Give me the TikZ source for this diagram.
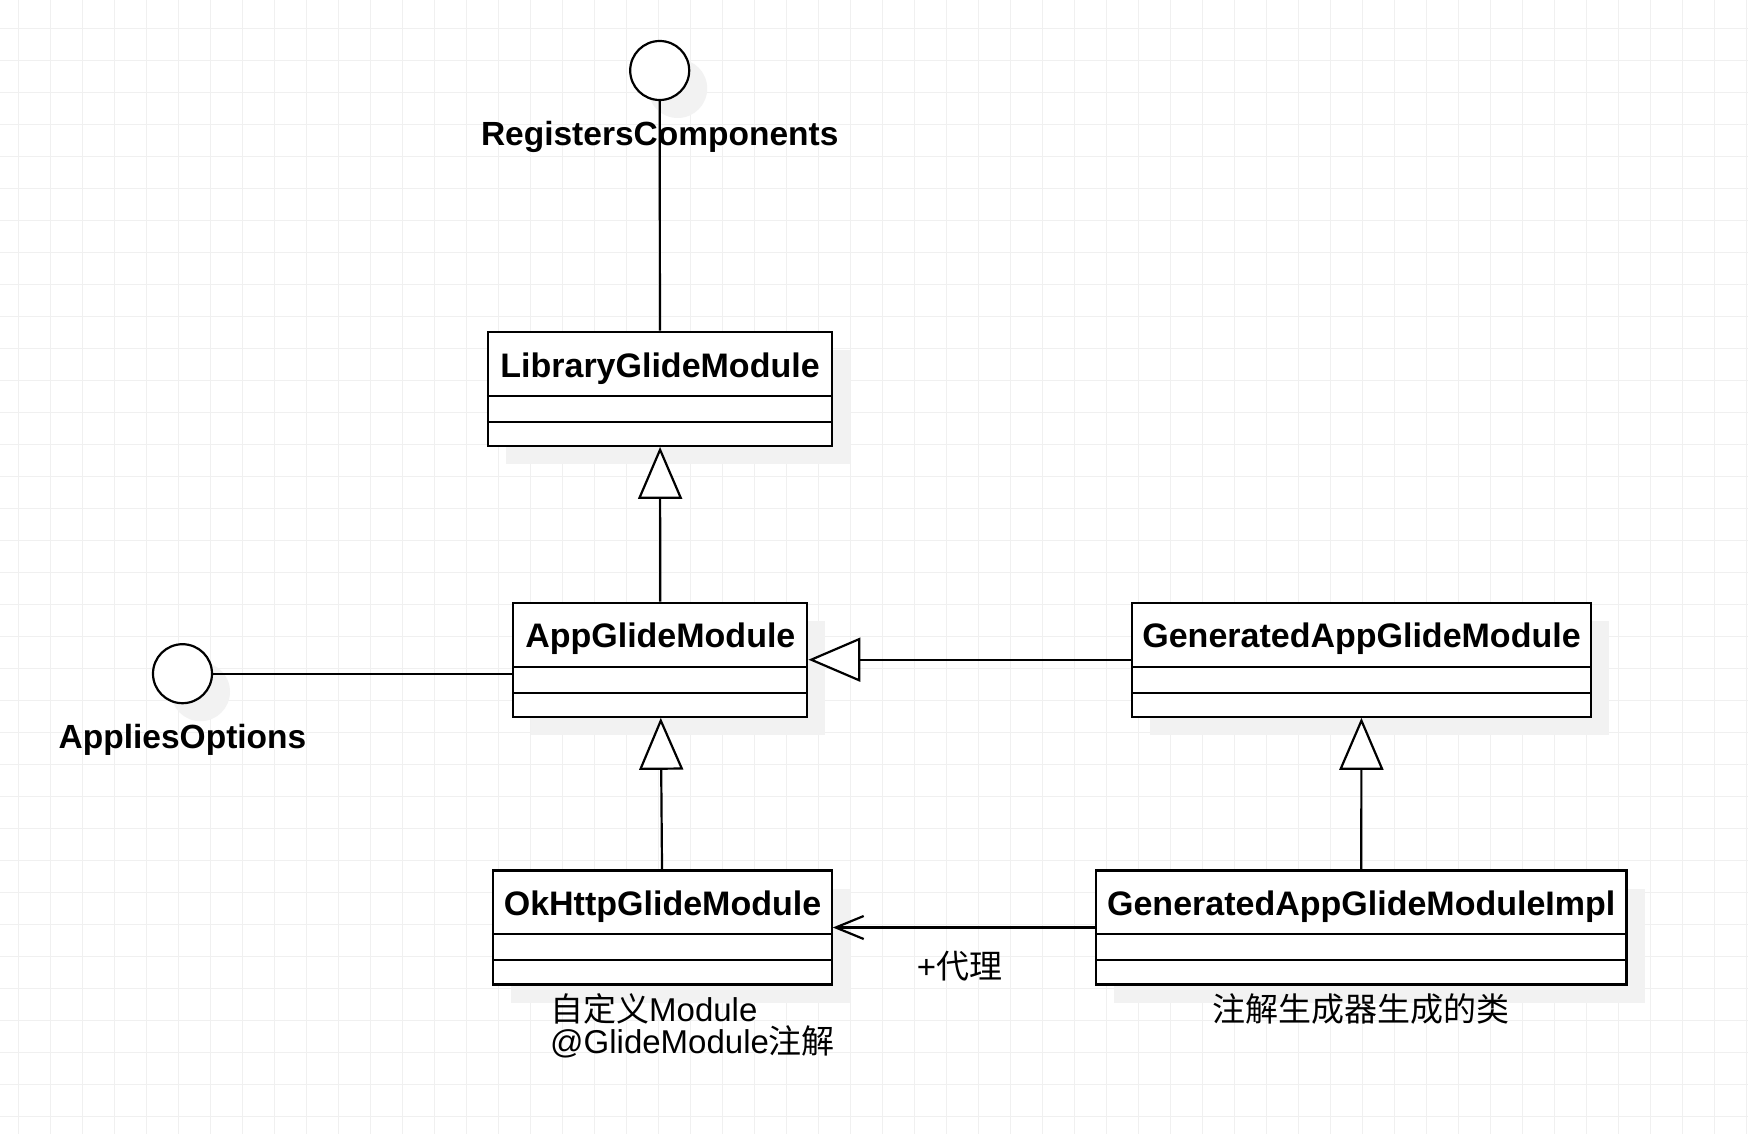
\documentclass[tikz,border=0pt]{standalone}
\usepackage{fontspec}
\setmainfont{Liberation Sans}
\newfontfamily\cjk{Noto Sans CJK SC}
\usetikzlibrary{arrows.meta,positioning,calc,shadows}
\definecolor{gridgray}{RGB}{240,240,240}
\definecolor{shadegray}{RGB}{242,242,242}
\tikzset{
  gridline/.style={gridgray, line width=1pt},
  boxshade/.style={drop shadow={shadow xshift=18pt, shadow yshift=-18pt, fill=shadegray, opacity=1}},
  umlbox/.style={draw, fill=white, line width=2.2pt, minimum height=114pt, inner sep=0pt, boxshade},
  iface/.style={circle, draw, fill=white, line width=2.2pt, minimum size=59pt, inner sep=0pt, boxshade},
  clsname/.style={font=\fontsize{34}{40}\selectfont\bfseries, inner sep=0pt, anchor=base},
  ifname/.style={font=\fontsize{33.5}{40}\selectfont\bfseries, inner sep=0pt, anchor=base},
  note/.style={font=\fontsize{33}{32}\selectfont, inner sep=0pt, align=left},
  sep/.style={line width=2pt},
  conn/.style={line width=2.2pt},
  gen/.style={conn, -{Triangle[open, fill=white, length=52pt, width=44pt]}},
  dep/.style={conn, -{Straight Barb[length=28pt, width=23pt]}},
}
% class box: name, centre, width, title
\newcommand{\umlclass}[4]{%
  \node[umlbox, minimum width=#3] (#1) at (#2) {};
  \node[clsname] (#1-title) at ($(#1.north)+(0,46.3)$) {#4};
  \draw[sep] ($(#1.north west)+(0,65)$) -- ($(#1.north east)+(0,65)$);
  \draw[sep] ($(#1.north west)+(0,91)$) -- ($(#1.north east)+(0,91)$);
}

\begin{document}
\begin{tikzpicture}[x=1pt, y=-1pt]
  \useasboundingbox (0,0) rectangle (1748,1134);
  \fill[white] (0,0) rectangle (1748,1134);
  % background grid
  \foreach \i in {0,...,54} \draw[gridline] (18.5+32*\i,0) -- (18.5+32*\i,1134);
  \foreach \j in {0,...,34} \draw[gridline] (0,28.5+32*\j) -- (1748,28.5+32*\j);

  % interfaces
  \node[iface] (rc) at (659.7,70.5) {};
  \node[iface] (ao) at (182.5,673.7) {};

  % classes
  \umlclass{lib}{660,388.8}{344pt}{LibraryGlideModule}
  \umlclass{app}{660.3,659.7}{294pt}{AppGlideModule}
  \umlclass{gagm}{1361.5,659.7}{458.4pt}{GeneratedAppGlideModule}
  \umlclass{ok}{662.5,927.5}{338.4pt}{OkHttpGlideModule}
  \umlclass{impl}{1361.2,927.5}{530.7pt}{GeneratedAppGlideModuleImpl}

  % connectors
  \draw[conn] (rc) -- (lib);
  \draw[conn] (ao) -- (ao -| app.west);
  \draw[gen] (app) -- (lib);
  \draw[gen] (gagm) -- (app);
  \draw[gen] (ok) -- (app);
  \draw[gen] (impl) -- (gagm);
  \draw[dep] (impl) -- (ok)
    node[note, anchor=base, pos=0.516, yshift=-51.3pt] (proxy) {+{\cjk 代理}};

  % labels
  \node[ifname] (rc-lbl) at (659.7,146) {RegistersComponents};
  \node[ifname] (ao-lbl) at (182.5,748.3) {AppliesOptions};
  \node[note, anchor=base west] (ok-note) at (550,1053.5) {{\cjk 自定义}Module\\@GlideModule{\cjk 注解}};
  \node[note, anchor=base] (impl-note) at (1361.2,1021.5) {\cjk 注解生成器生成的类};
\end{tikzpicture}
\end{document}
